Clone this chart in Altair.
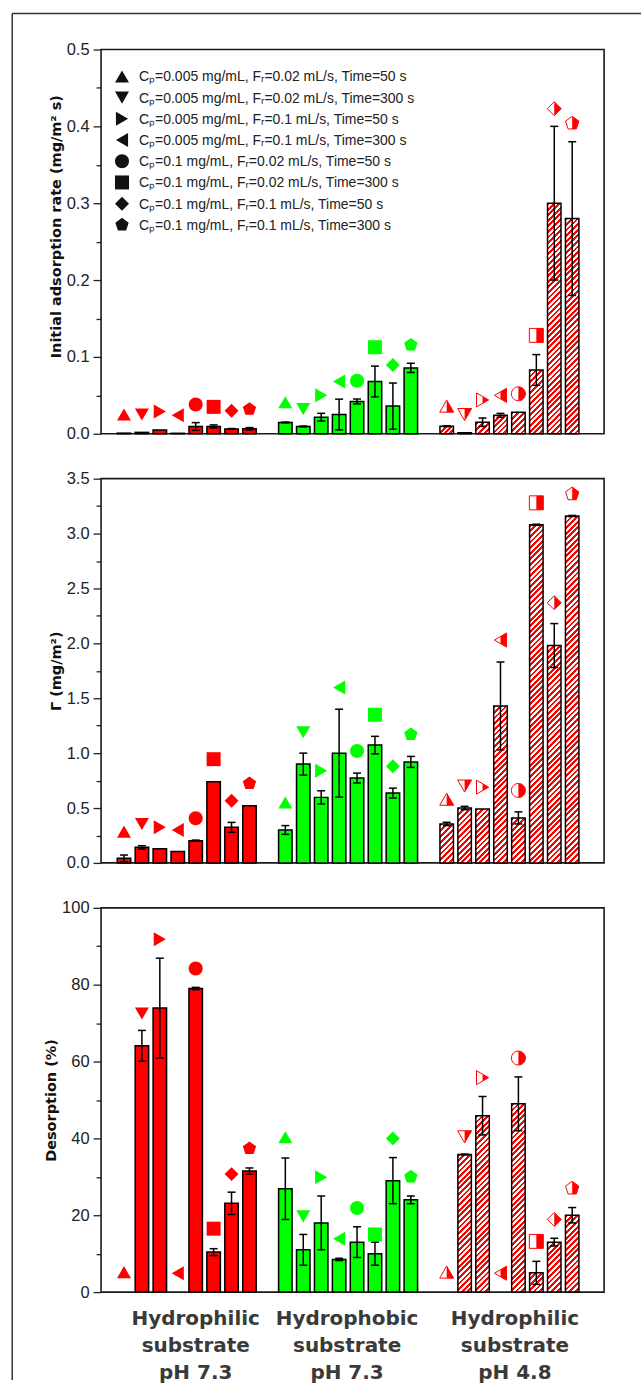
import json
import altair as alt
import pandas as pd

# ---------------- categories ----------------
conditions = [
    "C\u209a=0.005 mg/mL, F\u1d63=0.02 mL/s, Time=50 s",
    "C\u209a=0.005 mg/mL, F\u1d63=0.02 mL/s, Time=300 s",
    "C\u209a=0.005 mg/mL, F\u1d63=0.1 mL/s, Time=50 s",
    "C\u209a=0.005 mg/mL, F\u1d63=0.1 mL/s, Time=300 s",
    "C\u209a=0.1 mg/mL, F\u1d63=0.02 mL/s, Time=50 s",
    "C\u209a=0.1 mg/mL, F\u1d63=0.02 mL/s, Time=300 s",
    "C\u209a=0.1 mg/mL, F\u1d63=0.1 mL/s, Time=50 s",
    "C\u209a=0.1 mg/mL, F\u1d63=0.1 mL/s, Time=300 s",
]
group_labels = [
    "Hydrophilic\nsubstrate\npH 7.3",
    "Hydrophobic\nsubstrate\npH 7.3",
    "Hydrophilic\nsubstrate\npH 4.8",
]

# ---------------- panel 1: initial adsorption rate ----------------
rate_g1 = [0.0008, 0.0018, 0.005, 0.0006, 0.0095, 0.0095, 0.0063, 0.0065]
rate_g1_err = [0, 0, 0, 0, 0.005, 0.002, 0.0005, 0.0015]
rate_g1_mark = [0.025, 0.025, 0.029, 0.024, 0.038, 0.035, 0.030, 0.032]
rate_g2 = [0.0147, 0.0095, 0.0216, 0.025, 0.042, 0.068, 0.036, 0.0857]
rate_g2_err = [0.0005, 0.0005, 0.005, 0.02, 0.0032, 0.02, 0.03, 0.006]
rate_g2_mark = [0.041, 0.032, 0.050, 0.068, 0.069, 0.1126, 0.0896, 0.1156]
rate_g3 = [0.0098, 0.0013, 0.015, 0.024, 0.028, 0.083, 0.300, 0.280]
rate_g3_err = [0.0005, 0, 0.0055, 0.0025, 0, 0.02, 0.1, 0.1]
rate_g3_mark = [0.036, 0.025, 0.044, 0.050, 0.052, 0.128, 0.423, 0.404]

# ---------------- panel 2: adsorbed amount Gamma ----------------
gam_g1 = [0.042, 0.142, 0.13, 0.103, 0.203, 0.74, 0.324, 0.52]
gam_g1_err = [0.03, 0.015, 0, 0, 0.005, 0, 0.045, 0]
gam_g1_mark = [0.285, 0.355, 0.324, 0.30, 0.406, 0.945, 0.567, 0.724]
gam_g2 = [0.30, 0.90, 0.597, 1.0, 0.773, 1.073, 0.636, 0.92]
gam_g2_err = [0.04, 0.1, 0.06, 0.4, 0.045, 0.08, 0.045, 0.05]
gam_g2_mark = [0.55, 1.19, 0.84, 1.597, 1.02, 1.35, 0.88, 1.17]
gam_g3 = [0.355, 0.50, 0.49, 1.43, 0.41, 3.08, 1.98, 3.16]
gam_g3_err = [0.015, 0.015, 0, 0.4, 0.055, 0.005, 0.2, 0.005]
gam_g3_mark = [0.58, 0.70, 0.69, 2.03, 0.66, 3.28, 2.37, 3.36]

# ---------------- panel 3: desorption (%) ----------------
des_g1 = [None, 64.1, 73.9, None, 79.0, 10.4, 23.1, 31.5]
des_g1_err = [0, 4, 13, 0, 0.3, 0.9, 2.9, 0.8]
des_g1_mark = [5.2, 72.5, 91.8, 4.9, 84.2, 16.5, 30.7, 37.4]
des_g2 = [26.9, 11, 18, 8.5, 13, 10, 29, 24]
des_g2_err = [8, 4, 7, 0.3, 4, 3, 6, 1]
des_g2_mark = [40.3, 19.7, 29.9, 13.9, 21.9, 15, 40, 30]
des_g3 = [None, 35.8, 45.9, None, 49, 5, 13, 20]
des_g3_err = [0, 0.1, 5, 0, 7, 3, 1, 2]
des_g3_mark = [5.2, 40.4, 55.8, 4.9, 60.9, 13.2, 18.9, 27]

# ---------------- styles ----------------
RED = "#ff0000"
GREEN = "#00ff00"
PLOT_W, PLOT_H = 504, 385
XMAX = 27.5
BAR_W = 13.5

FULL = [
    "M0,-0.866L1,0.866L-1,0.866Z",
    "M0,0.866L-1,-0.866L1,-0.866Z",
    "M0.866,0L-0.866,1L-0.866,-1Z",
    "M-0.866,0L0.866,-1L0.866,1Z",
    "M1,0A1,1,0,1,1,-1,0A1,1,0,1,1,1,0Z",
    "M-1,-1L1,-1L1,1L-1,1Z",
    "M0,-1L1,0L0,1L-1,0Z",
    "M0,-1L0.951,-0.309L0.588,0.809L-0.588,0.809L-0.951,-0.309Z",
]
HALF = [
    "M0,-0.866L1,0.866L0,0.866Z",
    "M0,0.866L0,-0.866L1,-0.866Z",
    "M0,-0.5L0.866,0L0,0.5Z",
    "M0,-0.5L0.866,-1L0.866,1L0,0.5Z",
    "M0,-1A1,1,0,0,1,0,1Z",
    "M0,-1L1,-1L1,1L0,1Z",
    "M0,-1L1,0L0,1Z",
    "M0,-1L0.951,-0.309L0.588,0.809L0,0.809Z",
]
SIZES = [196, 196, 196, 196, 128, 95, 196, 190]


def table(vals, errs, marks):
    rows = []
    for g in range(3):
        for c in range(8):
            v = vals[g][c]
            e = errs[g][c]
            rows.append({
                "g": g, "c": c, "pos": 9 * g + c + 1,
                "v": v, "e": e, "m": marks[g][c],
                "lo": None if v is None else v - e,
                "hi": None if v is None else v + e,
            })
    return pd.DataFrame(rows)


def hatch(h, w=BAR_W, period=5.6, frac=0.5):
    L = w + h
    n = max(1, int(round(L / period)))
    c = (w + h) / (w * w + h * h)
    stops = []
    for k in range(n):
        a, b, d = k / n, (k + frac) / n, (k + 1) / n
        stops += [
            {"offset": a, "color": RED}, {"offset": b, "color": RED},
            {"offset": b, "color": "#ffffff"}, {"offset": d, "color": "#ffffff"},
        ]
    return {"gradient": "linear", "x1": 0, "y1": 0, "x2": c * w, "y2": c * h, "stops": stops}


one = pd.DataFrame({"k": [0]})


def panel(df, ymax, majors, minors, fmt, title, title_y=None, legend=False, xlabels=False, frame=False):
    yscale = alt.Scale(domain=[0, ymax], nice=False, zero=True)
    xscale = alt.Scale(domain=[0, XMAX], nice=False, zero=False)
    test = "indexof(%s, datum.value) >= 0" % json.dumps(majors)
    ax_kw = dict(
        values=sorted(majors + minors), format=fmt,
        labelExpr=f"{test} ? datum.label : ''",
        tickSize={"condition": {"test": test, "value": 8}, "value": 5},
        tickColor="#222", tickWidth=1.3, domain=False, grid=False,
        labelFont="Liberation Sans", labelFontSize=16.5, labelColor="#222", labelPadding=4,
        titleFont="DejaVu Sans", titleFontWeight="bold", titleFontSize=14.5, titleColor="#111",
        titlePadding=3,
    )
    if title_y is not None:
        ax_kw["titleY"] = title_y
    ax = alt.Axis(**ax_kw)

    def Y(f):
        return alt.Y(f, type="quantitative", scale=yscale, axis=ax, title=title)

    def X(f):
        return alt.X(f, type="quantitative", scale=xscale, axis=None)

    shape_full = alt.Shape("c:N", scale=alt.Scale(domain=list(range(8)), range=FULL), legend=None)
    shape_half = alt.Shape("c:N", scale=alt.Scale(domain=list(range(8)), range=HALF), legend=None)
    size = alt.Size("c:O", scale=alt.Scale(domain=list(range(8)), range=SIZES), legend=None)
    fill = alt.Fill("g:N", scale=alt.Scale(domain=[0, 1], range=[RED, GREEN]), legend=None)

    base = alt.Chart(df)
    layers = []
    layers.append(
        base.transform_filter("datum.g < 2 && isValid(datum.v)")
        .mark_bar(width=BAR_W, stroke="black", strokeWidth=1.5)
        .encode(x=X("pos"), y=Y("v"), fill=fill)
    )
    hd = df[(df.g == 2) & df.v.notna()]
    for _, r in hd.iterrows():
        h = r.v / ymax * PLOT_H
        layers.append(
            alt.Chart(pd.DataFrame([{"pos": r.pos, "v": r.v}]))
            .mark_bar(width=BAR_W, fill=hatch(h), stroke="black", strokeWidth=1.5)
            .encode(x=X("pos"), y=Y("v"))
        )
    eb = base.transform_filter("datum.e > 0 && isValid(datum.v)")
    layers.append(
        eb.mark_rule(color="black", strokeWidth=1.5).encode(x=X("pos"), y=Y("lo"), y2=alt.Y2("hi"))
    )
    layers.append(
        eb.transform_fold(["lo", "hi"], as_=["kk", "yy"])
        .mark_rule(color="black", strokeWidth=1.5, xOffset=-4, x2Offset=4)
        .encode(x=X("pos"), x2=alt.X2("pos"), y=Y("yy"))
    )
    layers.append(
        base.transform_filter("datum.g < 2")
        .mark_point(filled=True, opacity=1, strokeWidth=0)
        .encode(x=X("pos"), y=Y("m"), shape=shape_full, size=size, fill=fill)
    )
    layers.append(
        base.transform_filter("datum.g == 2")
        .mark_point(filled=True, fill="#ffffff", stroke=RED, strokeWidth=1, opacity=1)
        .encode(x=X("pos"), y=Y("m"), shape=shape_full, size=size)
    )
    layers.append(
        base.transform_filter("datum.g == 2")
        .mark_point(filled=True, fill=RED, strokeWidth=0, opacity=1)
        .encode(x=X("pos"), y=Y("m"), shape=shape_half, size=size)
    )
    if legend:
        ld = pd.DataFrame({"c": list(range(8))})
        layers.append(
            alt.Chart(ld)
            .transform_calculate(ly=f"{ymax} * (1 - (27 + datum.c * 21.24) / {PLOT_H})")
            .mark_point(filled=True, fill="#111", strokeWidth=0, opacity=1)
            .encode(x=alt.value(21), y=Y("ly"), shape=shape_full, size=size)
        )
        layers.append(
            alt.Chart(one)
            .mark_text(text=conditions, lineHeight=21.24, align="left", baseline="alphabetic",
                       font="Liberation Sans", fontSize=14, color="#222")
            .encode(x=alt.value(38), y=alt.value(32))
        )
    if frame:
        layers.append(
            alt.Chart(one).mark_rule(color="#333", strokeWidth=1.5)
            .encode(x=alt.value(-89), x2=alt.value(541), y=alt.value(-36))
        )
        layers.append(
            alt.Chart(one).mark_rule(color="#333", strokeWidth=1.5)
            .encode(x=alt.value(-89), y=alt.value(-36), y2=alt.value(1333))
        )
    if xlabels:
        gd = pd.DataFrame({"label": group_labels, "center": [9 * g + 4.5 for g in range(3)], "g": [0, 1, 2]})
        for g, dx in zip(range(3), [9, -1, 5.5]):
            layers.append(
                alt.Chart(gd).transform_filter(f"datum.g == {g}")
                .mark_text(lineBreak="\n", lineHeight=27, font="DejaVu Sans", fontWeight="bold",
                           fontSize=20, color="#3a3a3a", align="center", baseline="alphabetic", dx=dx)
                .encode(x=X("center"), y=alt.value(418), text="label:N")
            )
    return alt.layer(*layers).resolve_scale(shape="independent").properties(width=PLOT_W, height=PLOT_H)


p1 = panel(table([rate_g1, rate_g2, rate_g3], [rate_g1_err, rate_g2_err, rate_g3_err],
                 [rate_g1_mark, rate_g2_mark, rate_g3_mark]),
           0.5, [0.0, 0.1, 0.2, 0.3, 0.4, 0.5], [0.05, 0.15, 0.25, 0.35, 0.45], ".1f",
           "Initial adsorption rate (mg/m\u00b2 s)", title_y=177, legend=True, frame=True)
p2 = panel(table([gam_g1, gam_g2, gam_g3], [gam_g1_err, gam_g2_err, gam_g3_err],
                 [gam_g1_mark, gam_g2_mark, gam_g3_mark]),
           3.5, [0.0, 0.5, 1.0, 1.5, 2.0, 2.5, 3.0, 3.5], [0.25, 0.75, 1.25, 1.75, 2.25, 2.75, 3.25], ".1f",
           "\u0393 (mg/m\u00b2)")
p3 = panel(table([des_g1, des_g2, des_g3], [des_g1_err, des_g2_err, des_g3_err],
                 [des_g1_mark, des_g2_mark, des_g3_mark]),
           100, [0, 20, 40, 60, 80, 100], [10, 30, 50, 70, 90], "d",
           "Desorption (%)", xlabels=True)

chart = (
    alt.vconcat(p1, p2, p3, spacing=45, bounds="flush",
                padding={"left": 10.25, "top": 10.25, "right": 0, "bottom": 0})
    .configure(background="white")
    .configure_view(stroke="#1a1a1a", strokeWidth=1.6)
)

chart.save("out.html", embed_options={"renderer": "svg", "actions": False})
